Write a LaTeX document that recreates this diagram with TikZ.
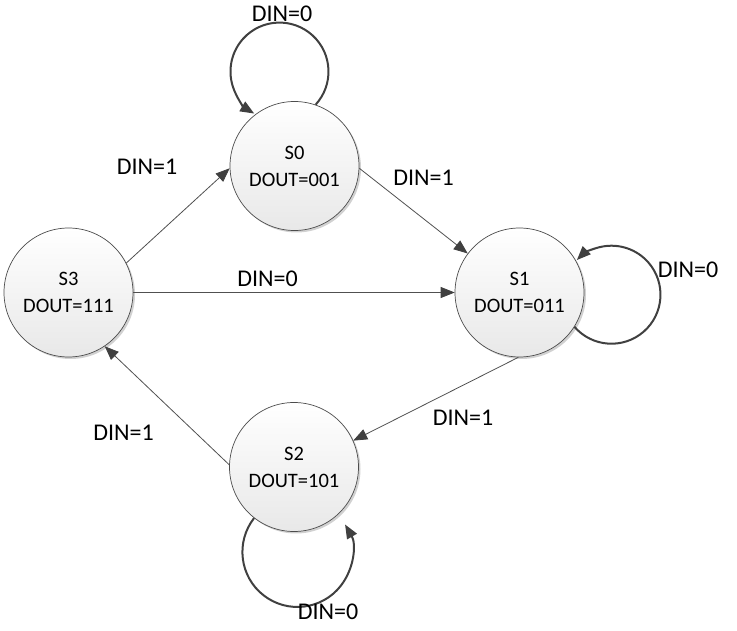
\documentclass[tikz,border=0pt]{standalone}
\usepackage{fontspec}
\setmainfont{Carlito}
\usetikzlibrary{arrows.meta,shadows}
\definecolor{loopcol}{HTML}{404040}
\definecolor{linecol}{HTML}{505050}
\tikzset{
  statenode/.style={circle, minimum size=129pt, inner sep=0pt, draw=black!70, line width=0.7pt,
    top color=white, bottom color=black!9, align=center,
    font=\fontsize{20.5}{27}\selectfont,
    drop shadow={shadow xshift=2pt, shadow yshift=-2pt, opacity=0.18, fill=black}},
  edgelabel/.style={font=\fontsize{24}{28}\selectfont, inner sep=0pt},
  tipstyle/.style={-{Triangle[length=14pt,width=11pt,color=loopcol]}},
  straightedge/.style={tipstyle, draw=linecol, line width=0.8pt},
  loopedge/.style={tipstyle, draw=loopcol, line width=2pt}
}
\begin{document}
\begin{tikzpicture}[x=1pt,y=1pt]
\useasboundingbox (0,0) rectangle (737,630);
\node[statenode] (s0) at (294.5,464) {S0\\DOUT=001};
\node[statenode] (s1) at (519.5,337.5) {S1\\DOUT=011};
\node[statenode] (s2) at (294,163) {S2\\DOUT=101};
\node[statenode] (s3) at (68.5,337.5) {S3\\DOUT=111};

% straight transitions
\draw[straightedge] (s3.27) -- (s0.182);
\draw[straightedge] (s0.-2) -- (s1.143);
\draw[straightedge] (s3.0) -- (s1.180);
\draw[straightedge] (s1.269) -- (s2.24);
\draw[straightedge] (s2.178) -- (s3.-56.7);

% self loops
\draw[loopedge] (s0.71) arc[start angle=-42.5, end angle=239, radius=49];
\draw[loopedge] (s1.-32.8) arc[start angle=221, end angle=495, radius=49];
\draw[loopedge] (s2.232) arc[start angle=142, end angle=390, radius=55];

% labels
\node[edgelabel] (l30) at (147,463) {DIN=1};
\node[edgelabel] (l01) at (423.5,452) {DIN=1};
\node[edgelabel] (l31) at (267.5,351) {DIN=0};
\node[edgelabel] (l12) at (463,212) {DIN=1};
\node[edgelabel] (l23) at (123.5,197) {DIN=1};
\node[edgelabel] (l00) at (282,616) {DIN=0};
\node[edgelabel] (l11) at (688,360) {DIN=0};
\node[edgelabel] (l22) at (328,18) {DIN=0};
\end{tikzpicture}
\end{document}
